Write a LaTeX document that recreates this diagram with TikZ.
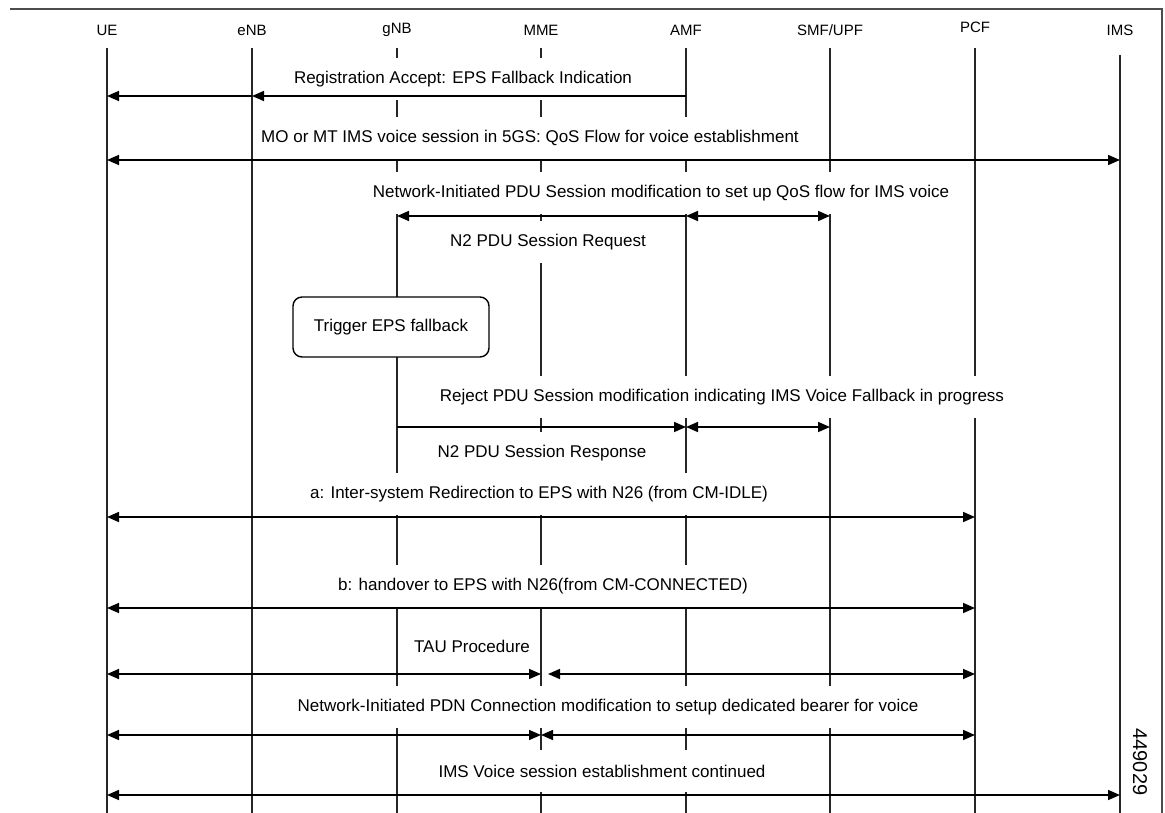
\documentclass[tikz,border=0pt]{standalone}
\usepackage{fontspec}
\setmainfont{Liberation Sans}
\usetikzlibrary{arrows.meta}

\tikzset{
  head/.style={font=\fontsize{15}{18}\selectfont},
  life/.style={line width=1.6pt, draw=black!85},
  lbl/.style={fill=white, inner xsep=5pt, inner ysep=0pt, minimum height=42pt,
    font=\fontsize{17}{20}\selectfont},
  msg/.style={line width=1.6pt, -{Triangle[length=12pt,width=10pt]}},
  both/.style={line width=1.6pt,
    {Triangle[length=12pt,width=10pt]}-{Triangle[length=12pt,width=10pt]}},
  stepbox/.style={draw, line width=1.4pt, rounded corners=9pt, fill=white,
    minimum width=196pt, minimum height=60pt, font=\fontsize{17}{20}\selectfont},
  frame/.style={line width=1.6pt, draw=black!70}
}

\begin{document}
\begin{tikzpicture}[x=1pt,y=-1pt]
	\useasboundingbox (0,0) rectangle (1165,813);
	\draw[frame] (10,9) -- (1162,9) -- (1162,813);

	% entities
	\node[head] (ue)  at (107, 30)  {UE};
	\node[head] (enb) at (252, 30)  {eNB};
	\node[head] (gnb) at (397, 30)  {gNB};
	\node[head] (mme) at (541, 30)  {MME};
	\node[head] (amf) at (686, 30)  {AMF};
	\node[head] (smf) at (830, 30)  {SMF/UPF};
	\node[head] (pcf) at (975, 27)  {PCF};
	\node[head] (ims) at (1120, 30) {IMS};

	\coordinate (top)  at (0, 48);
	\coordinate (itop) at (0, 55);
	\coordinate (bot)  at (0, 813);

	\draw[life] (ue |- top) -- (ue |- bot);
	\draw[life] (enb |- top) -- (enb |- bot);
	\draw[life] (gnb |- top) -- (gnb |- bot);
	\draw[life] (mme |- top) -- (mme |- bot);
	\draw[life] (amf |- top) -- (amf |- bot);
	\draw[life] (smf |- top) -- (smf |- bot);
	\draw[life] (pcf |- top) -- (pcf |- bot);
	\draw[life] (ims |- itop) -- (ims |- bot);

	% message texts
	\node[lbl] (t1)  at (463, 79)  {Registration Accept: EPS Fallback Indication};
	\node[lbl] (t2)  at (530, 138) {MO or MT IMS voice session in 5GS: QoS Flow for voice establishment};
	\node[lbl] (t3)  at (661, 193) {Network-Initiated PDU Session modification to set up QoS flow for IMS voice};
	\node[lbl] (t4)  at (548, 242) {N2 PDU Session Request};
	\node[stepbox] (trig) at (391, 327) {Trigger EPS fallback};
	\node[lbl] (t5)  at (722, 397) {Reject PDU Session modification indicating IMS Voice Fallback in progress};
	\node[lbl] (t6)  at (542, 453) {N2 PDU Session Response};
	\node[lbl] (t7)  at (539, 494) {a: Inter-system Redirection to EPS with N26 (from CM-IDLE)};
	\node[lbl] (t8)  at (543, 586) {b: handover to EPS with N26(from CM-CONNECTED)};
	\node[lbl] (t9)  at (472, 646) {TAU Procedure};
	\node[lbl] (t10) at (608, 707) {Network-Initiated PDN Connection modification to setup dedicated bearer for voice};
	\node[lbl] (t11) at (602, 771) {IMS Voice session establishment continued};

	% message rows
	\coordinate (m1) at (0, 96);
	\coordinate (m2) at (0, 160);
	\coordinate (m3) at (0, 216);
	\coordinate (m4) at (0, 427);
	\coordinate (m5) at (0, 517);
	\coordinate (m6) at (0, 608);
	\coordinate (m7) at (0, 674);
	\coordinate (m8) at (0, 735);
	\coordinate (m9) at (0, 795);

	\draw[msg] (amf |- m1) -- (enb |- m1);
	\draw[msg] (enb |- m1) -- (ue |- m1);
	\draw[both] (ue |- m2) -- (ims |- m2);
	\draw[msg] (amf |- m3) -- (gnb |- m3);
	\draw[both] (amf |- m3) -- (smf |- m3);
	\draw[msg] (gnb |- m4) -- (amf |- m4);
	\draw[both] (amf |- m4) -- (smf |- m4);
	\draw[both] (ue |- m5) -- (pcf |- m5);
	\draw[both] (ue |- m6) -- (pcf |- m6);
	\draw[both] (ue |- m7) -- (mme |- m7);
	\draw[both, shorten <=7pt] (mme |- m7) -- (pcf |- m7);
	\draw[both] (ue |- m8) -- (mme |- m8);
	\draw[both] (mme |- m8) -- (pcf |- m8);
	\draw[both] (ue |- m9) -- (ims |- m9);

	\node[rotate=-90, font=\fontsize{20}{24}\selectfont] (fig) at (1140, 762) {449029};
\end{tikzpicture}
\end{document}
